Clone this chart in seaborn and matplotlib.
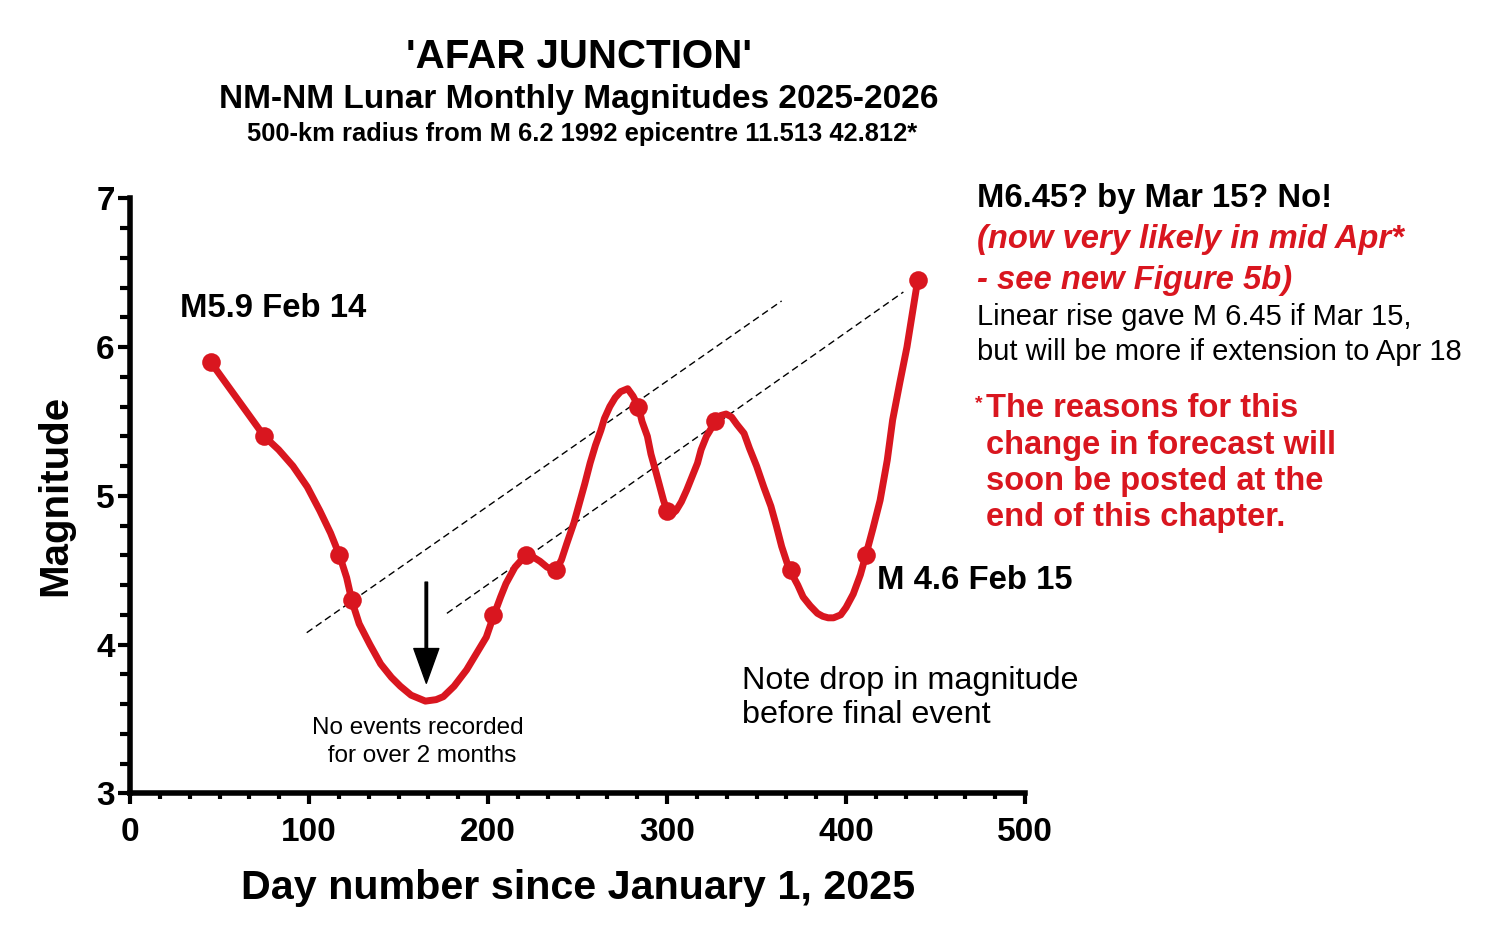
import matplotlib
matplotlib.use("Agg")
import matplotlib.pyplot as plt
from matplotlib.ticker import MultipleLocator
import seaborn as sns

# events (day since Jan 1 2025, magnitude)
event_day = [45, 75, 117, 124, 203, 221, 238, 284, 300, 327, 369, 411, 440]
event_mag = [5.9, 5.4, 4.6, 4.3, 4.2, 4.6, 4.5, 5.6, 4.9, 5.5, 4.5, 4.6, 6.45]

# smoothed curve
curve_day = [45, 60, 75, 83, 91, 99, 106, 112, 117, 121, 124, 128, 134, 140, 146,
             151, 157, 165, 171, 175, 181, 188, 194, 199, 203, 207, 210, 215, 221,
             225, 229, 233, 238, 241, 244, 248, 251, 254, 257, 260, 263, 265, 268,
             271, 274, 278, 281, 284, 286, 289, 291, 294, 298, 300, 303, 305, 308,
             311, 314, 317, 319, 322, 325, 327, 330, 333, 336, 339, 343, 346, 350,
             354, 358, 361, 364, 367, 369, 373, 376, 380, 384, 387, 390, 393, 397,
             400, 404, 408, 411, 415, 419, 423, 426, 430, 434, 438, 440]
curve_mag = [5.90, 5.65, 5.40, 5.31, 5.20, 5.06, 4.90, 4.75, 4.60, 4.45, 4.29, 4.14,
             4.00, 3.87, 3.78, 3.72, 3.66, 3.62, 3.63, 3.65, 3.72, 3.83, 3.95, 4.05,
             4.19, 4.32, 4.41, 4.52, 4.60, 4.59, 4.56, 4.52, 4.50, 4.57, 4.68, 4.82,
             4.95, 5.08, 5.22, 5.34, 5.44, 5.52, 5.60, 5.66, 5.70, 5.72, 5.67, 5.60,
             5.50, 5.40, 5.28, 5.15, 4.97, 4.90, 4.88, 4.90, 4.96, 5.04, 5.13, 5.22,
             5.31, 5.40, 5.46, 5.49, 5.54, 5.55, 5.53, 5.48, 5.42, 5.32, 5.20, 5.06,
             4.93, 4.80, 4.66, 4.55, 4.49, 4.40, 4.32, 4.26, 4.21, 4.19, 4.18, 4.18,
             4.20, 4.25, 4.34, 4.47, 4.60, 4.78, 4.97, 5.24, 5.51, 5.76, 6.00, 6.30, 6.45]

# dashed trend lines (end points)
trend1_day = [98.7, 364]
trend1_mag = [4.08, 6.31]
trend2_day = [177, 432]
trend2_mag = [4.21, 6.37]

x_ticks = [0, 100, 200, 300, 400, 500]
y_ticks = [3, 4, 5, 6, 7]

RED = "#d9161f"

sns.set_style("ticks")
plt.rcParams["font.family"] = ["Liberation Sans", "DejaVu Sans"]
plt.rcParams.update({"text.color": "black", "axes.labelcolor": "black",
                     "xtick.color": "black", "ytick.color": "black",
                     "axes.edgecolor": "black"})

fig = plt.figure(figsize=(15, 9.43), dpi=100)
ax = fig.add_axes([0.0867, 0.1587, 0.5967, 0.631])

ax.plot(trend1_day, trend1_mag, color="black", lw=1.0, linestyle=(0, (5, 3)))
ax.plot(trend2_day, trend2_mag, color="black", lw=1.0, linestyle=(0, (5, 3)))

sns.lineplot(x=curve_day, y=curve_mag, sort=False, estimator=None, color=RED,
             lw=5, ax=ax, solid_joinstyle="round", solid_capstyle="round", zorder=2)
sns.scatterplot(x=event_day, y=event_mag, s=180, color=RED, linewidth=0,
                ax=ax, zorder=3)

ax.set_xlim(0, 500)
ax.set_ylim(3, 7)
ax.set_xticks(x_ticks)
ax.set_yticks(y_ticks)
ax.xaxis.set_minor_locator(MultipleLocator(100 / 6))
ax.yaxis.set_minor_locator(MultipleLocator(0.2))
sns.despine(ax=ax)
for s in ["left", "bottom"]:
    ax.spines[s].set_linewidth(4)
ax.tick_params(axis="both", which="major", direction="out", width=3, labelsize=24)
ax.tick_params(axis="x", which="major", length=8, pad=9)
ax.tick_params(axis="y", which="major", length=9, pad=2)
ax.tick_params(axis="x", which="minor", direction="out", width=3, length=4)
ax.tick_params(axis="y", which="minor", direction="out", width=3, length=7)
for lab in ax.get_xticklabels() + ax.get_yticklabels():
    lab.set_fontweight("bold")

ax.set_xlabel("Day number since January 1, 2025", fontsize=29.7, fontweight="bold", labelpad=15)
ax.set_ylabel("Magnitude", fontsize=29, fontweight="bold", labelpad=16)

# annotations inside the plot
ax.text(28, 6.26, "M5.9 Feb 14", fontsize=23.7, fontweight="bold", va="center")
ax.text(417, 4.43, "M 4.6 Feb 15", fontsize=23.7, fontweight="bold", va="center")
ax.text(161, 3.345, "No events recorded\n for over 2 months", fontsize=17.5,
        ha="center", va="center", linespacing=1.4)
ax.text(342, 3.64, "Note drop in magnitude\nbefore final event", fontsize=23.3,
        ha="left", va="center", linespacing=1.2)
ax.annotate("", xy=(165.5, 3.74), xytext=(165.5, 4.42),
            arrowprops=dict(facecolor="black", edgecolor="black", width=1.8,
                            headwidth=18, headlength=25, shrink=0))

# titles
fig.text(0.386, 0.9396, "'AFAR JUNCTION'", fontsize=29, fontweight="bold",
         ha="center", va="center")
fig.text(0.386, 0.894, "NM-NM Lunar Monthly Magnitudes 2025-2026", fontsize=24,
         fontweight="bold", ha="center", va="center")
fig.text(0.388, 0.858, "500-km radius from M 6.2 1992 epicentre 11.513 42.812*",
         fontsize=18.4, fontweight="bold", ha="center", va="center")

# right-hand notes
xr = 0.6513
fig.text(xr, 0.790, "M6.45? by Mar 15? No!", fontsize=23.6, fontweight="bold", va="center")
fig.text(xr, 0.7455, "(now very likely in mid Apr*", fontsize=23.6, fontweight="bold",
         style="italic", color=RED, va="center")
fig.text(xr, 0.703, "- see new Figure 5b)", fontsize=23.6, fontweight="bold",
         style="italic", color=RED, va="center")
fig.text(xr, 0.664, "Linear rise gave M 6.45 if Mar 15,", fontsize=21, va="center")
fig.text(xr, 0.6267, "but will be more if extension to Apr 18", fontsize=21, va="center")

xr2 = 0.6573
fig.text(xr - 0.001, 0.572, "*", fontsize=14, fontweight="bold", color=RED, va="center")
red_lines = ["The reasons for this", "change in forecast will",
             "soon be posted at the", "end of this chapter."]
for i, line in enumerate(red_lines):
    fig.text(xr2, 0.5663 - i * 0.0382, line, fontsize=23.5, fontweight="bold",
             color=RED, va="center")

fig.savefig("out.png", dpi=100)
